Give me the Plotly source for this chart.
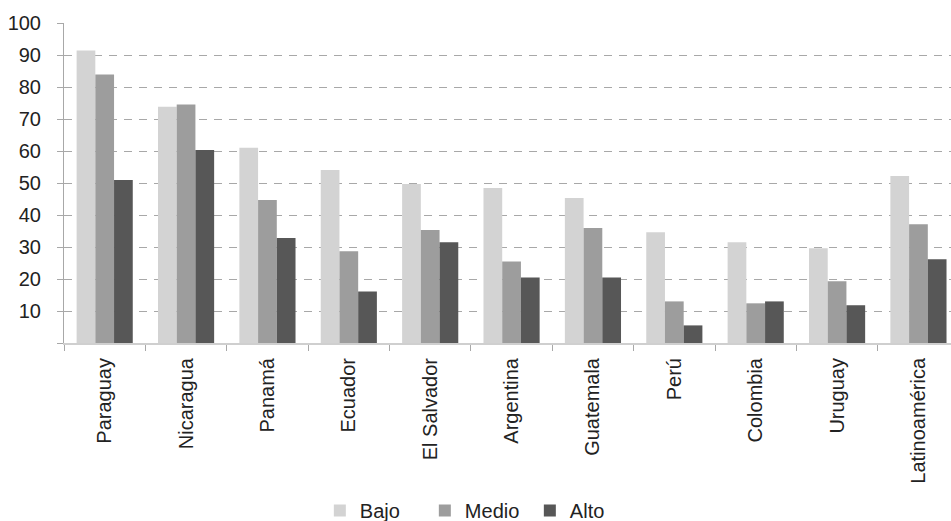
import plotly.graph_objects as go

paises = ["Paraguay", "Nicaragua", "Panamá", "Ecuador", "El Salvador", "Argentina",
          "Guatemala", "Perú", "Colombia", "Uruguay", "Latinoamérica"]
bajo = [91.4, 73.8, 61.0, 54.1, 49.7, 48.4, 45.3, 34.6, 31.5, 29.6, 52.2]
medio = [83.9, 74.5, 44.7, 28.7, 35.3, 25.5, 35.9, 13.0, 12.4, 19.3, 37.1]
alto = [50.9, 60.3, 32.8, 16.1, 31.5, 20.5, 20.5, 5.5, 13.0, 11.8, 26.2]

series = [("Bajo", bajo, "#d3d3d3"), ("Medio", medio, "#9d9d9d"), ("Alto", alto, "#575757")]

FONT = "Liberation Sans, Arial, sans-serif"

fig = go.Figure()
for nombre, valores, color in series:
    fig.add_trace(go.Bar(x=paises, y=valores, name=nombre,
                         marker=dict(color=color, line=dict(width=0))))

fig.update_layout(
    width=951, height=521,
    margin=dict(l=64, r=0, t=23, b=178, pad=0),
    paper_bgcolor="white", plot_bgcolor="white",
    barmode="group", bargap=0.31, bargroupgap=0,
    font=dict(family=FONT, size=20, color="#222222"),
    showlegend=True,
    legend=dict(orientation="h", xref="paper", yref="container",
                x=0.466, xanchor="center", y=0.02, yanchor="middle",
                font=dict(size=20, color="#222222"), itemwidth=30,
                entrywidth=60, entrywidthmode="pixels",
                traceorder="normal", bgcolor="rgba(0,0,0,0)"),
)

fig.update_xaxes(
    range=[-0.5, 10.4], tickangle=-90, tickson="boundaries",
    ticks="outside", ticklen=6, tickcolor="#a8a8a8", tickwidth=1,
    showline=True, linecolor="#cfcfcf", linewidth=2,
    showgrid=False, ticklabelstandoff=5, automargin=False,
    tickfont=dict(family=FONT, size=20, color="#222222"),
)

fig.update_yaxes(
    range=[0, 100], tickvals=list(range(0, 101, 10)),
    ticktext=[""] + [str(v) for v in range(10, 101, 10)],
    ticks="outside", ticklen=6, tickcolor="#a8a8a8", tickwidth=1,
    showline=True, linecolor="#a8a8a8", linewidth=1,
    showgrid=True, gridcolor="#a8a8a8", gridwidth=1, griddash="8px,7px",
    zeroline=False, ticklabelstandoff=12, automargin=False,
    tickfont=dict(family=FONT, size=20, color="#222222"),
)

fig.write_html("out.html")
